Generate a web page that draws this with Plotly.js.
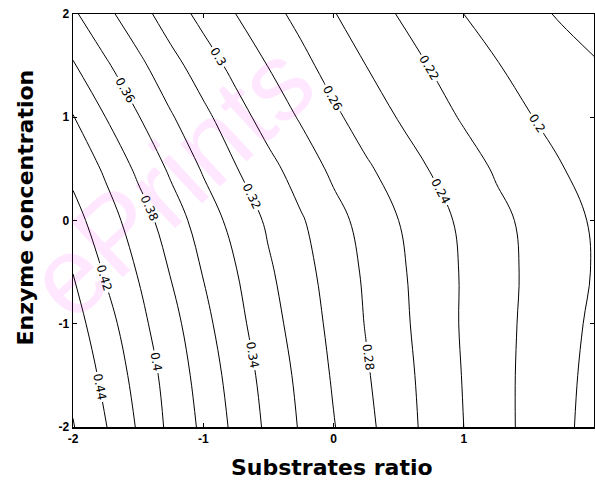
<!DOCTYPE html>
<html>
<head>
<meta charset="utf-8">
<script src="https://cdn.plot.ly/plotly-3.0.1.min.js"></script>
<style>html,body{margin:0;padding:0;background:#fff;}#chart{width:595px;height:489px;}</style>
</head>
<body>
<div id="chart"></div>
<script>
// Substrates ratio (x) grid and Enzyme concentration (y) grid
const substratesRatio = [-2, -1.75, -1.5, -1.25, -1, -0.75, -0.5, -0.25, 0, 0.25, 0.5, 0.75, 1, 1.25, 1.5, 1.75, 2];
const enzymeConc = [-2, -1.5, -1, -0.5, 0, 0.5, 1, 1.5, 2];
// Response values, one row per enzyme concentration
const zRowM20 = [0.461, 0.441, 0.418, 0.395, 0.376, 0.355, 0.336, 0.318, 0.301, 0.285, 0.269, 0.254, 0.240, 0.227, 0.215, 0.204, 0.194];
const zRowM15 = [0.455, 0.435, 0.413, 0.392, 0.372, 0.351, 0.333, 0.315, 0.298, 0.282, 0.267, 0.253, 0.239, 0.227, 0.215, 0.205, 0.195];
const zRowM10 = [0.448, 0.428, 0.406, 0.387, 0.366, 0.346, 0.328, 0.311, 0.295, 0.279, 0.265, 0.251, 0.238, 0.227, 0.216, 0.206, 0.197];
const zRowM05 = [0.4397, 0.418, 0.399, 0.379, 0.359, 0.341, 0.323, 0.307, 0.292, 0.277, 0.263, 0.251, 0.238, 0.227, 0.217, 0.208, 0.199];
const zRow00  = [0.427, 0.409, 0.390, 0.370, 0.351, 0.333, 0.317, 0.302, 0.287, 0.273, 0.260, 0.248, 0.236, 0.225, 0.216, 0.207, 0.198];
const zRowP05 = [0.415, 0.397, 0.376, 0.357, 0.338, 0.321, 0.306, 0.291, 0.276, 0.263, 0.251, 0.239, 0.228, 0.218, 0.209, 0.201, 0.192];
const zRowP10 = [0.401, 0.380, 0.361, 0.342, 0.325, 0.308, 0.292, 0.278, 0.264, 0.251, 0.239, 0.228, 0.218, 0.209, 0.201, 0.192, 0.184];
const zRowP15 = [0.382, 0.363, 0.345, 0.327, 0.310, 0.294, 0.2795, 0.266, 0.252, 0.240, 0.229, 0.219, 0.210, 0.201, 0.194, 0.188, 0.182];
const zRowP20 = [0.363, 0.345, 0.328, 0.310, 0.294, 0.280, 0.267, 0.254, 0.241, 0.230, 0.219, 0.209, 0.200, 0.193, 0.185, 0.178, 0.171];
const xTicks = [-2, -1, 0, 1, 2];
const yTicks = [-2, -1, 0, 1, 2];
const xTitle = 'Substrates ratio';
const yTitle = 'Enzyme concentration';
const watermark = 'ePrints';

const trace = {
  type: 'contour',
  x: substratesRatio,
  y: enzymeConc,
  z: [zRowM20, zRowM15, zRowM10, zRowM05, zRow00, zRowP05, zRowP10, zRowP15, zRowP20],
  autocontour: false,
  contours: {
    start: 0.18, end: 0.46, size: 0.02,
    coloring: 'none',
    showlabels: true,
    labelformat: '.2~f',
    labelfont: {family: 'DejaVu Sans, sans-serif', size: 12, color: '#000'}
  },
  line: {color: '#000', width: 1, smoothing: 1.1},
  showscale: false,
  hoverinfo: 'skip'
};

const font = 'Liberation Sans, Arial, sans-serif';
const titleFont = {family: 'DejaVu Sans, sans-serif', size: 22, weight: 'bold', color: '#000'};
const layout = {
  width: 595, height: 489,
  margin: {l: 73, r: 1, t: 14, b: 62},
  paper_bgcolor: '#fff', plot_bgcolor: 'rgba(0,0,0,0)',
  showlegend: false,
  font: {family: font, color: '#000'},
  xaxis: {
    range: [-2, 2], tickvals: xTicks, ticktext: xTicks.map(String),
    ticks: 'inside', ticklen: 4, tickcolor: '#000',
    showline: true, linecolor: '#000', linewidth: 1.5, mirror: 'ticks',
    showgrid: false, zeroline: false,
    tickfont: {family: font, size: 12, color: '#000', weight: 'bold'}
  },
  yaxis: {
    range: [-2, 2], tickvals: yTicks, ticktext: yTicks.map(String),
    ticks: 'inside', ticklen: 4, tickcolor: '#000',
    showline: true, linecolor: '#000', linewidth: 1.5, mirror: 'ticks',
    showgrid: false, zeroline: false,
    tickfont: {family: font, size: 12, color: '#000', weight: 'bold'}
  },
  annotations: [
    {text: watermark, xref: 'paper', yref: 'paper', x: 0.186, y: 0.597,
     xanchor: 'center', yanchor: 'middle', showarrow: false, textangle: -43,
     font: {family: font, size: 110, color: 'rgba(255,0,255,0.09)'}},
    {text: xTitle, xref: 'paper', yref: 'paper', x: 0.497, y: -0.099,
     xanchor: 'center', yanchor: 'middle', showarrow: false, font: titleFont},
    {text: yTitle, xref: 'paper', yref: 'paper', x: -0.092, y: 0.5315,
     xanchor: 'center', yanchor: 'middle', showarrow: false, textangle: -90, font: titleFont}
  ]
};

Plotly.newPlot('chart', [trace], layout, {staticPlot: true, displayModeBar: false});
</script>
</body>
</html>
